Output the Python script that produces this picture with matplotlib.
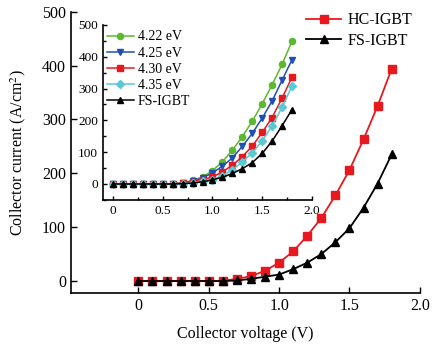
import matplotlib.pyplot as plt
from matplotlib.ticker import MultipleLocator

plt.rcParams['font.family'] = ['Liberation Serif', 'DejaVu Serif']
plt.rcParams['mathtext.fontset'] = 'stix'

v = [0, 0.1, 0.2, 0.3, 0.4, 0.5, 0.6, 0.7, 0.8, 0.9,
     1.0, 1.1, 1.2, 1.3, 1.4, 1.5, 1.6, 1.7, 1.8]

# main panel
hc_igbt = [0, 0, 0, 0, 0, 0, 0.5, 4, 9, 19, 34, 55, 84, 117, 159, 206, 263, 325, 394]
fs_igbt = [0, 0, 0, 0, 0, 0, 0, 1, 4, 8, 12, 22, 34, 50, 72, 98, 136, 181, 235]

# inset: different work functions
wf_labels = ['4.22 eV', '4.25 eV', '4.30 eV', '4.35 eV', 'FS-IGBT']
i_422 = [0, 0, 0, 0, 0, 0, 0.5, 4, 11, 22, 42, 70, 106, 149, 197, 252, 312, 376, 449]
i_425 = [0, 0, 0, 0, 0, 0, 0.5, 3, 9, 19, 35, 56, 82, 118, 159, 207, 261, 326, 391]
i_430 = [0, 0, 0, 0, 0, 0, 0, 2, 6, 13, 22, 38, 59, 86, 119, 162, 209, 270, 336]
i_435 = [0, 0, 0, 0, 0, 0, 0, 1, 4, 8, 14, 26, 45, 69, 98, 135, 183, 241, 308]
i_fs = [0, 0, 0, 0, 0, 0, 0, 1, 3, 7, 13, 21, 33, 48, 67, 96, 135, 183, 234]

fig = plt.figure(figsize=(4.35, 3.47), dpi=100)
ax = fig.add_axes([0.163, 0.156, 0.802, 0.81])

ax.plot(v, hc_igbt, '-s', color='#e8191e', ms=5.5, lw=1.3, label='HC-IGBT')
ax.plot(v, fs_igbt, '-^', color='black', ms=6, lw=1.3, label='FS-IGBT')
ax.set_xlim(-0.48, 2.0)
ax.set_ylim(-22, 500)
ax.set_xticks([0, 0.5, 1.0, 1.5, 2.0])
ax.set_xticklabels(['0', '0.5', '1.0', '1.5', '2.0'])
ax.set_yticks([0, 100, 200, 300, 400, 500])
ax.spines['top'].set_visible(False)
ax.spines['right'].set_visible(False)
ax.tick_params(direction='in', labelsize=11.5, length=4, width=1)
for s in ['left', 'bottom']:
    ax.spines[s].set_linewidth(1.2)
ax.set_xlabel('Collector voltage (V)', fontsize=11.5, labelpad=9)
ax.set_ylabel('Collector current (A/cm$^2$)', fontsize=11.5, labelpad=10)
ax.legend(loc='upper right', bbox_to_anchor=(1.02, 1.05), frameon=False,
          fontsize=11.5, handlelength=2.2, handletextpad=0.4, labelspacing=0.3)

# inset
ins = fig.add_axes([0.237, 0.424, 0.48, 0.504])
styles = [('o', '#5cb82e'), ('v', '#1f4fb4'), ('s', '#e8191e'),
          ('D', '#5bc8d6'), ('^', 'black')]
for data, lab, (mk, col) in zip([i_422, i_425, i_430, i_435, i_fs], wf_labels, styles):
    ins.plot(v, data, '-', marker=mk, color=col, ms=4.4 if mk != 'D' else 3.8,
             lw=1.1, label=lab)
ins.set_xlim(-0.1, 2.0)
ins.set_ylim(-50, 500)
ins.set_xticks([0, 0.5, 1.0, 1.5, 2.0])
ins.set_xticklabels(['0', '0.5', '1.0', '1.5', '2.0'])
ins.set_yticks([0, 100, 200, 300, 400, 500])
ins.xaxis.set_minor_locator(MultipleLocator(0.25))
ins.yaxis.set_minor_locator(MultipleLocator(50))
ins.spines['top'].set_visible(False)
ins.spines['right'].set_visible(False)
for s in ['left', 'bottom']:
    ins.spines[s].set_linewidth(1.2)
ins.tick_params(direction='in', labelsize=9.5, length=3, width=1)
ins.tick_params(which='minor', direction='in', length=2, width=1)
ins.patch.set_alpha(0)
ins.legend(loc='upper left', bbox_to_anchor=(-0.04, 1.04), frameon=False,
           fontsize=10, handlelength=1.9, handletextpad=0.3, labelspacing=0.22)

fig.savefig('out.png', dpi=100)
